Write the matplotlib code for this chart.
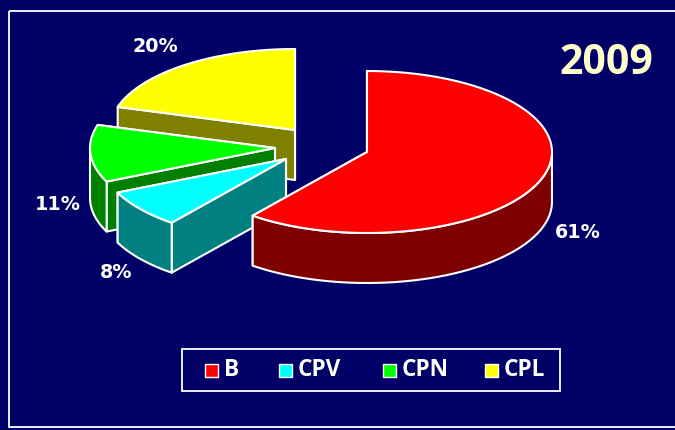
import numpy as np
import matplotlib
matplotlib.use('Agg')
import matplotlib.pyplot as plt
from matplotlib.patches import Polygon, Rectangle

# Data
labels = ['B', 'CPV', 'CPN', 'CPL']
values = [60.6, 7.6, 11.4, 20.4]
pct_labels = ['61%', '8%', '11%', '20%']
year = '2009'

colours = ['#FF0000', '#00FFFF', '#00FF00', '#FFFF00']
side_colours = ['#7F0000', '#008080', '#008000', '#808000']
navy = '#000066'

# pie geometry, in pixels of the 675x430 picture
rx, ry, depth = 185, 81, 50
apex = [(367, 152), (286, 159), (275, 148), (295, 130)]
label_xy = [(578, 233), (116, 272), (58, 204), (155, 47)]

fig = plt.figure(figsize=(6.75, 4.30), dpi=100, facecolor=navy)
ax = fig.add_axes([0, 0, 1, 1])
ax.set_xlim(0, 675)
ax.set_ylim(430, 0)
ax.axis('off')

# frame runs off the right edge of the picture
ax.add_patch(Rectangle((9, 10.5), 700, 416, fill=False, ec='white', lw=1.3))


def arc(cx, cy, a0, a1, n=80):
    t = np.radians(np.linspace(a0, a1, n))
    return np.column_stack([cx + rx * np.cos(t), cy - ry * np.sin(t)])


def draw_slice(i, a0, a1):
    cx, cy = apex[i]
    edge = dict(ec='white', lw=1.5, joinstyle='round')
    down = np.array([0, depth])
    centre = np.array([[cx, cy]])
    rim = arc(cx, cy, a0, a1)

    # cut faces (lower one on screen last), then outer wall, then top
    for a in sorted((a0, a1), key=lambda v: -np.sin(np.radians(v))):
        p = arc(cx, cy, a, a, 1)
        ax.add_patch(Polygon(np.vstack([centre, p, p + down, centre + down]),
                             fc=side_colours[i], **edge))
    front = rim[np.sin(np.radians(np.linspace(a0, a1, len(rim)))) <= 0.0]
    if len(front) > 1:
        ax.add_patch(Polygon(np.vstack([front, (front + down)[::-1]]),
                             fc=side_colours[i], **edge))
    ax.add_patch(Polygon(np.vstack([centre, rim]), fc=colours[i], **edge))


# clockwise from 12 o'clock, back slices first
angles = 90 - np.cumsum([0] + values) * 3.6
for i in [3, 2, 1, 0]:
    draw_slice(i, angles[i], angles[i + 1])

for (x, y), s in zip(label_xy, pct_labels):
    ax.text(x, y, s, color='white', fontsize=13.8, fontweight='bold',
            ha='center', va='center', family='DejaVu Sans')

ax.text(606, 64, year, color='#FFFFCC', fontsize=29.5, fontweight='bold',
        ha='center', va='center', family='Open Sans')

# Legend
ax.add_patch(Rectangle((182, 349), 378, 41.5, fc=navy, ec='white', lw=1.3))
key_x = [204.5, 278.5, 383, 485]
text_x = [224, 298, 402, 504]
for x, tx, s, c in zip(key_x, text_x, labels, colours):
    ax.add_patch(Rectangle((x, 363.5), 13, 13, fc=c, ec='white', lw=1))
    ax.text(tx, 369.5, s, color='white', fontsize=16.3, fontweight='bold',
            ha='left', va='center', family='Open Sans')

plt.savefig('out.png', dpi=100, facecolor=navy)
